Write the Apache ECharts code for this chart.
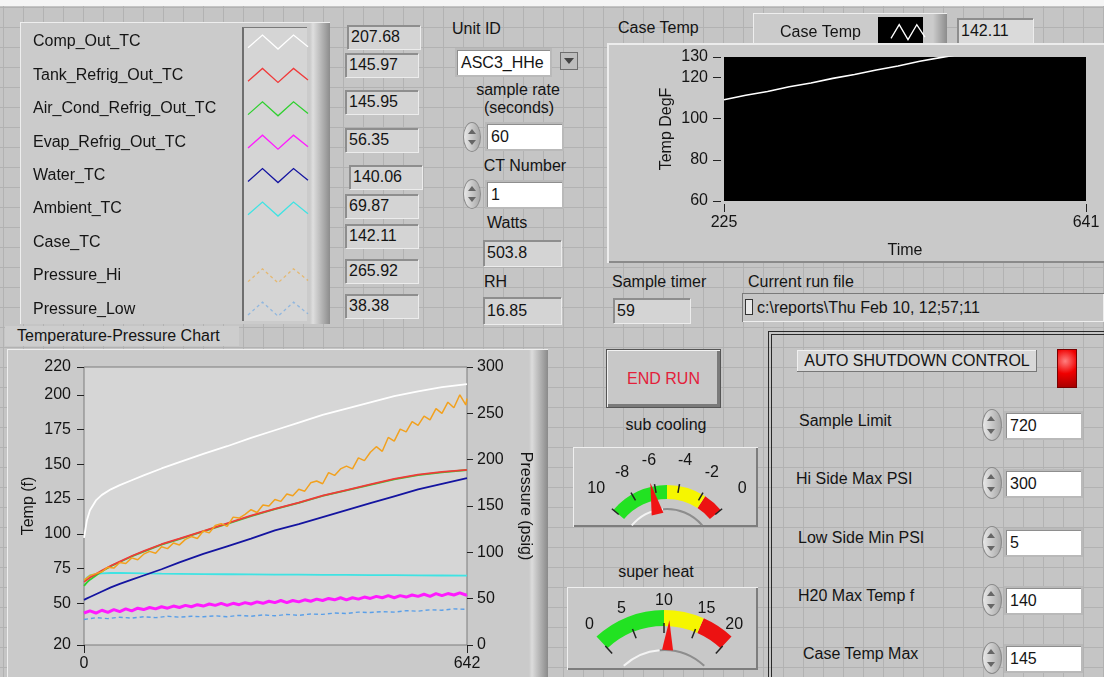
<!DOCTYPE html>
<html>
<head>
<meta charset="utf-8">
<title>Temperature-Pressure Monitor</title>
<script src="https://cdn.jsdelivr.net/npm/echarts@6.0.0/dist/echarts.min.js"></script>
<style>
  html, body { margin: 0; padding: 0; }
  body {
    width: 1104px; height: 677px; overflow: hidden; position: relative;
    font-family: 'Liberation Sans', Arial, sans-serif; font-size: 16px; color: #141414;
    background-color: #c5c5c5;
    background-image:
      linear-gradient(to right, #b2b2b2 1px, transparent 1px),
      linear-gradient(to bottom, #b2b2b2 1px, transparent 1px);
    background-size: 20px 20px;
    background-position: 3px 7px;
  }
  .w { position: absolute; box-sizing: border-box; white-space: nowrap; }
  .raised { background: #c8c8c8; box-shadow: inset 1px 1px 0 #efefef, inset -2px -2px 0 #7d7d7d; }
  .ind { background: #d4d4d4; box-shadow: inset 2px 2px 0 #8e8e8e, 1px 1px 0 #ececec; padding-left: 4px; }
  .ctl { background: #fff; box-shadow: inset 1px 1px 0 #8e8e8e, 0 0 0 2px #b9b9b9; padding-left: 4px; }
  .spin { border-radius: 50%; background: linear-gradient(to right, #e8e8e8, #a8a8a8); border: 1px solid #8a8a8a; }
  .spin::before, .spin::after { content: ''; position: absolute; left: 4px; border-left: 4px solid transparent; border-right: 4px solid transparent; }
  .spin::before { top: 6px; border-bottom: 5px solid #666; }
  .spin::after { bottom: 6px; border-top: 5px solid #666; }
  #chart { position: absolute; left: 0; top: 0; width: 1104px; height: 677px; }
</style>
</head>
<body>
<div id="ui"></div>
<div id="chart"></div>
<script>
// ---- data ----
const trendX = [0, 5, 10, 20, 30, 45, 60, 80, 100, 130, 160, 200, 240, 280, 320, 360, 400, 440, 480, 520, 560, 600, 642];
const compOutTC = [97, 110, 117, 124, 128, 132, 135, 138.5, 142, 147, 151.5, 157.5, 163, 169, 174.5, 180, 185.5, 190, 194.5, 199, 202.5, 205.5, 207.7];
const tankOutTC = [65.5, 67, 68.5, 71, 73.5, 77, 80, 84, 87.5, 92.5, 96.5, 102, 107.5, 113, 118, 122.5, 127.5, 131.5, 135.5, 139.5, 142.5, 144.5, 146];
const airCondTC = [62.5, 65, 67, 70, 73, 76.7, 79.7, 83.7, 87.2, 92.2, 96.2, 101.7, 107.2, 112.7, 117.7, 122.2, 127.2, 131.2, 135.2, 139.2, 142.2, 144.2, 145.9];
const waterTC = [52.5, 53.5, 54.5, 56.5, 58.5, 61.5, 64, 67, 70, 74.5, 79.5, 85.5, 91, 96.5, 102.5, 107, 112, 117, 122, 127, 132, 136, 140.1];
const ambientTC = [66, 68.5, 70, 71, 71.5, 71.8, 71.8, 71.7, 71.5, 71.3, 71.2, 71, 70.9, 70.8, 70.7, 70.6, 70.5, 70.4, 70.3, 70.2, 70.1, 70, 69.9];

const noisyX = [0, 10, 20, 30, 40, 50, 60, 70, 80, 90, 100, 110, 120, 130, 140, 150, 160, 170, 180, 190,
  200, 210, 220, 230, 240, 250, 260, 270, 280, 290, 300, 310, 320, 330, 340, 350, 360, 370, 380, 390,
  400, 410, 420, 430, 440, 450, 460, 470, 480, 490, 500, 510, 520, 530, 540, 550, 560, 570, 580, 590,
  600, 610, 620, 630, 640, 642];
const evapTC = [43, 44.5, 43, 45, 43.5, 45.5, 44, 46, 44.5, 46.5, 45.5, 47, 46, 47.5, 46.5, 48, 47, 48.5, 47.5, 49,
  48, 49.5, 48.5, 50, 48.5, 50, 49, 50.5, 49.5, 51, 50, 51.5, 50.5, 52, 50.5, 52, 51, 52.5, 51.5, 53,
  52, 53.5, 52.5, 54, 52.5, 54, 53, 54.5, 53.5, 55, 54, 55.5, 54, 55.5, 54.5, 56, 55, 56.5, 55, 57,
  55.5, 57, 56, 57.5, 56, 56.3];
const pressureHi = [70, 75, 77, 79, 84, 83, 89, 88, 94, 92, 98, 101, 99, 106, 104, 110, 108, 114, 117, 115,
  123, 121, 129, 131, 128, 138, 137, 141, 146, 143, 151, 150, 157, 155, 163, 161, 168, 166, 175, 177,
  174, 186, 183, 190, 193, 190, 202, 199, 208, 214, 209, 224, 220, 233, 230, 241, 237, 247, 243, 255,
  250, 262, 256, 270, 259, 266];

const lowX = [0, 20, 40, 60, 80, 100, 120, 140, 160, 180, 200, 220, 240, 260, 280, 300, 320, 340, 360, 380,
  400, 420, 440, 460, 480, 500, 520, 540, 560, 580, 600, 620, 640, 642];
const pressureLow = [27.5, 29.5, 28.5, 30, 29, 30.5, 29.5, 31, 30, 31, 30.5, 31.5, 30.5, 32, 31, 32.5, 31.5, 33, 32, 33.5,
  33, 34.5, 34, 35.5, 35, 36, 35.5, 37, 36.5, 38, 37.5, 39, 38.5, 38.4];

const caseX = [225, 250, 275, 300, 325, 350, 375, 400, 425, 450, 475, 500, 525, 550, 575, 600, 625, 641];
const caseTemp = [109.2, 111.4, 113.2, 115.5, 117.4, 119.6, 121.5, 123.7, 125.6, 127.9, 129.8, 131.6, 133.5, 135.6, 137.4, 139.4, 141, 142.1];

const legendNames = ['Comp_Out_TC', 'Tank_Refrig_Out_TC', 'Air_Cond_Refrig_Out_TC', 'Evap_Refrig_Out_TC',
  'Water_TC', 'Ambient_TC', 'Case_TC', 'Pressure_Hi', 'Pressure_Low'];
const readouts = ['207.68', '145.97', '145.95', '56.35', '140.06', '69.87', '142.11', '265.92', '38.38'];

const tempTicks = [20, 50, 75, 100, 125, 150, 175, 200, 220];
const caseTicks = [60, 80, 100, 120, 130];
const subCooling = -6.3;
const superHeat = 10.8;

const shutdownLabels = ['Sample Limit', 'Hi Side Max PSI', 'Low Side Min PSI', 'H20 Max Temp f', 'Case Temp Max'];
const shutdownValues = ['720', '300', '5', '140', '145'];

// ---- front panel widgets (plain html behind the chart canvas) ----
const ui = document.getElementById('ui');
function put(cls, x, y, w, h, text, extra) {
  const d = document.createElement('div');
  d.className = 'w ' + cls;
  d.style.left = x + 'px';
  d.style.top = y + 'px';
  if (w) d.style.width = w + 'px';
  if (h) { d.style.height = h + 'px'; d.style.lineHeight = h + 'px'; }
  if (text != null) d.textContent = text;
  if (extra) Object.assign(d.style, extra);
  ui.appendChild(d);
  return d;
}
const label = (x, cy, text, extra) => put('', x, cy - 10, null, 20, text, extra);
const centered = (cx, cy, text, extra) => put('', cx - 70, cy - 10, 140, 20, text, Object.assign({ textAlign: 'center' }, extra));

put('', 0, 0, 1104, 6, null, { background: '#f5f5f5' });

// legend panel
put('', 20, 22, 310, 302, null, { background: 'linear-gradient(to right,#cbcbcb 0,#cbcbcb 290px,#dedede 293px,#8c8c8c 310px)', boxShadow: 'inset 1px 1px 0 #eeeeee' });
put('', 242, 27, 65, 294, null, { background: '#d5d5d5', borderLeft: '2px solid #6f6f6f', borderTop: '1px solid #7a7a7a' });

const readX = [347, 345, 345, 345, 349, 345, 345, 345, 345];
const readY = [37, 65, 102, 140, 177, 206, 236, 271, 306];
readouts.forEach((v, i) => put('ind', readX[i], readY[i] - 12, 73, 24, v));

label(452, 29, 'Unit ID');
put('ctl', 457, 50, 93, 25, 'ASC3_HHe');
put('', 560, 52, 18, 18, null, { background: '#bdbdbd', border: '1px solid #6e6e6e' });
put('', 564, 58, 0, 0, null, { borderLeft: '5px solid transparent', borderRight: '5px solid transparent', borderTop: '6px solid #444' });
centered(518, 90, 'sample rate');
centered(519, 108, '(seconds)');
put('spin', 463, 122, 18, 30);
put('ctl', 487, 124, 75, 25, '60');
centered(525, 166, 'CT Number');
put('spin', 463, 179, 18, 30);
put('ctl', 487, 182, 75, 25, '1');
label(487, 223, 'Watts');
put('ind', 483, 240, 78, 26, '503.8');
label(484, 282, 'RH');
put('ind', 483, 297, 78, 27, '16.85');

// case temp chart frame
label(618, 28, 'Case Temp');
put('', 753, 13, 194, 34, null, { background: 'linear-gradient(to right,#cbcbcb 0,#cbcbcb 180px,#8c8c8c 194px)', boxShadow: 'inset 1px 1px 0 #eeeeee' });
put('', 878, 17, 45, 26, null, { background: '#000' });
put('ind', 957, 18, 76, 25, '142.11', { background: '#dadada' });
put('', 607, 43, 497, 220, null, { background: '#c9c9c9', boxShadow: 'inset 2px 2px 0 #ececec, inset 0 -2px 0 #8a8a8a' });
label(612, 282, 'Sample timer');
put('ind', 613, 298, 77, 25, '59');
label(748, 282, 'Current run file');
put('', 742, 293, 362, 29, null, { background: '#c6c6c6', boxShadow: 'inset 1px 1px 0 #7a7a7a, inset -1px -1px 0 #eeeeee' });
put('', 745, 299, 8, 16, null, { border: '1px solid #333', background: '#e8e8e8' });
put('', 757, 295, null, 26, 'c:\\reports\\Thu Feb 10, 12;57;11');

// main chart frame
put('', 5, 326, 234, 20, 'Temperature-Pressure Chart', { background: '#cdcdcd', paddingLeft: '12px' });
put('', 7, 349, 541, 328, null, { background: 'linear-gradient(to right,#cacaca 0,#cacaca 522px,#dcdcdc 525px,#8a8a8a 541px)', boxShadow: 'inset 1px 1px 0 #eeeeee' });

// button and gauge frames
put('raised', 607, 350, 113, 57, 'END RUN', { textAlign: 'center', color: '#e3203a', boxShadow: 'inset 1px 1px 0 #f2f2f2, inset -3px -3px 0 #7a7a7a, 0 0 0 1px #555' });
centered(666, 425, 'sub cooling');
put('raised', 573, 447, 185, 80);
centered(656, 572, 'super heat');
put('raised', 567, 587, 191, 83);

// auto shutdown block
put('', 768, 331, 336, 346, null, { borderLeft: '4px double #2a2a2a', borderTop: '4px double #2a2a2a' });
put('', 797, 350, 240, 22, 'AUTO SHUTDOWN CONTROL', { background: '#d8d8d8', textAlign: 'center', boxShadow: 'inset -1px -1px 0 #777, inset 1px 1px 0 #f0f0f0' });
put('', 1057, 349, 20, 39, null, { background: 'radial-gradient(circle at 40% 30%, #ff8080, #f00000 45%, #a00000)', border: '1px solid #700' });
const rowLabelX = [799, 796, 798, 798, 803];
const rowY = [425, 483, 542, 600, 658];
shutdownLabels.forEach((t, i) => {
  label(rowLabelX[i], rowY[i] - 4, t);
  put('spin', 982, rowY[i] - 16, 20, 32);
  put('ctl', 1006, rowY[i] - 12, 75, 25, shutdownValues[i]);
});

// ---- charts ----
const chart = echarts.init(document.getElementById('chart'), null, { renderer: 'canvas' });
const FONT = 'Liberation Sans';
const axisText = { color: '#141414', fontSize: 16, fontFamily: FONT };
const zig = 'path://M0,12 L14,1 L29,13 L44,1 L58,11';
const pairs = (xs, ys) => xs.map((x, i) => [x, ys[i]]);

const COLORS = {
  'Comp_Out_TC': '#ffffff', 'Tank_Refrig_Out_TC': '#f03a3a', 'Air_Cond_Refrig_Out_TC': '#2fd02f',
  'Evap_Refrig_Out_TC': '#ff1aff', 'Water_TC': '#1414a0', 'Ambient_TC': '#3fe3e3',
  'Case_TC': 'transparent', 'Pressure_Hi': '#f2a11e', 'Pressure_Low': '#5a9fe8',
}

function line(name, data, width, extra) {
  return Object.assign({
    name, type: 'line', data, showSymbol: false, symbol: 'none',
    xAxisIndex: 0, yAxisIndex: 0,
    lineStyle: { color: COLORS[name], width }, itemStyle: { color: COLORS[name] },
  }, extra || {});
}

const mainSeries = [
  line('Pressure_Low', pairs(lowX, pressureLow), 1.4, { yAxisIndex: 1, lineStyle: { color: COLORS['Pressure_Low'], width: 1.4, type: [4, 3] } }),
  line('Evap_Refrig_Out_TC', pairs(noisyX, evapTC), 3),
  line('Ambient_TC', pairs(trendX, ambientTC), 1.8),
  line('Air_Cond_Refrig_Out_TC', pairs(trendX, airCondTC), 1.8),
  line('Tank_Refrig_Out_TC', pairs(trendX, tankOutTC), 1.8),
  line('Water_TC', pairs(trendX, waterTC), 1.8),
  line('Comp_Out_TC', pairs(trendX, compOutTC), 1.8),
  line('Case_TC', [], 1),
  line('Pressure_Hi', pairs(noisyX, pressureHi), 1.5, { yAxisIndex: 1 }),
];

const legendData = legendNames.map(n => ({
  name: n,
  itemStyle: {
    color: 'transparent',
    borderColor: COLORS[n],
    borderWidth: 1.3,
    borderType: n.indexOf('Pressure') === 0 ? [3, 3] : 'solid',
    opacity: n.indexOf('Pressure') === 0 ? 0.55 : 1,
  },
}));

function gauge(opt) {
  return Object.assign({
    type: 'gauge',
    axisTick: { show: false },
    progress: { show: false },
    anchor: { show: false },
    title: { show: false },
    detail: { show: false },
  }, opt);
}

const legendText = w => ({
  width: w, lineHeight: 14, color: '#141414', fontSize: 16, fontFamily: FONT,
  rich: { n: { align: 'left', fontSize: 16, lineHeight: 14, fontFamily: FONT, color: '#141414' } },
});

const option = {
  animation: false,
  legend: [
    {
      orient: 'vertical', left: 28, top: 29, itemGap: 17.4, itemWidth: 60, itemHeight: 14,
      align: 'right', icon: zig, symbolKeepAspect: false, selectedMode: false, data: legendData,
      formatter: n => '{n|' + n + '}',
      textStyle: legendText(210),
    },
    {
      orient: 'vertical', left: 775, top: 19, itemWidth: 34, itemHeight: 15,
      align: 'right', icon: zig, symbolKeepAspect: false, selectedMode: false,
      data: [{ name: 'Case Temp', itemStyle: { color: 'transparent', borderColor: '#ffffff', borderWidth: 1.3 } }],
      formatter: n => '{n|' + n + '}',
      textStyle: legendText(106),
    },
  ],
  grid: [
    { left: 84, top: 367, width: 383, height: 278, show: true, backgroundColor: '#d6d6d6', borderColor: '#7d7d7d', borderWidth: 1 },
    { left: 724, top: 57, width: 362, height: 144, show: true, backgroundColor: '#000000', borderWidth: 0 },
  ],
  xAxis: [
    {
      type: 'value', gridIndex: 0, min: 0, max: 642,
      axisLine: { show: false }, splitLine: { show: false },
      axisTick: { customValues: [0, 642], length: 8, lineStyle: { color: '#222' } },
      axisLabel: Object.assign({ customValues: [0, 642], margin: 11 }, axisText),
    },
    {
      type: 'value', gridIndex: 1, min: 225, max: 641, offset: 3,
      axisLine: { show: false }, splitLine: { show: false },
      axisTick: { customValues: [225, 641], length: 8, lineStyle: { color: '#222' } },
      axisLabel: Object.assign({ customValues: [225, 641], margin: 11 }, axisText),
      name: 'Time', nameLocation: 'middle', nameGap: 39, nameTextStyle: axisText,
    },
  ],
  yAxis: [
    {
      type: 'value', gridIndex: 0, min: 20, max: 220,
      axisLine: { show: false }, splitLine: { show: false },
      axisTick: { customValues: tempTicks, length: 7, lineStyle: { color: '#222' } },
      axisLabel: Object.assign({ customValues: tempTicks, margin: 13 }, axisText),
      name: 'Temp (f)', nameLocation: 'middle', nameRotate: 90, nameGap: 47, nameTextStyle: axisText,
    },
    {
      type: 'value', gridIndex: 0, min: 0, max: 300, interval: 50, position: 'right',
      axisLine: { show: false }, splitLine: { show: false },
      axisTick: { length: 6, lineStyle: { color: '#222' } },
      axisLabel: Object.assign({ margin: 10 }, axisText),
      name: 'Pressure (psig)', nameLocation: 'middle', nameRotate: -90, nameGap: 50, nameTextStyle: axisText,
    },
    {
      type: 'value', gridIndex: 1, min: 60, max: 130, offset: 3,
      axisLine: { show: false }, splitLine: { show: false },
      axisTick: { customValues: caseTicks, length: 8, lineStyle: { color: '#222' } },
      axisLabel: Object.assign({ customValues: caseTicks, margin: 13 }, axisText),
      name: 'Temp DegF', nameLocation: 'middle', nameRotate: 90, nameGap: 46, nameTextStyle: axisText,
    },
  ],
  series: mainSeries.concat([
    {
      name: 'Case Temp', type: 'line', xAxisIndex: 1, yAxisIndex: 2, data: pairs(caseX, caseTemp),
      showSymbol: false, symbol: 'none', lineStyle: { color: '#ffffff', width: 1.6 }, itemStyle: { color: '#ffffff' },
    },
    // sub cooling
    gauge({
      center: [667, 555], radius: 47, startAngle: 140, endAngle: 40, min: -10, max: 0,
      axisLine: { lineStyle: { width: 2, color: [[0.45, '#f4f4f4'], [1, '#8d8d8d']] } },
      splitLine: { show: false }, axisLabel: { show: false }, pointer: { show: false }, data: [],
    }),
    gauge({
      center: [667, 555], radius: 70, startAngle: 140, endAngle: 40, min: -10, max: 0, splitNumber: 5,
      axisLine: { lineStyle: { width: 14, color: [[0.5, '#22e222'], [0.83, '#f6f600'], [1, '#ec1212']] } },
      splitLine: { distance: -16, length: 9, lineStyle: { color: '#222', width: 1.5 } },
      axisLabel: { distance: -27, color: '#141414', fontSize: 16, fontFamily: FONT, align: 'center', verticalAlign: 'middle',
        formatter: v => (v === -10 ? '10' : String(v)) },
      pointer: { icon: 'triangle', length: 32, width: 12, offsetCenter: [0, -42], itemStyle: { color: '#f01414' } },
      data: [{ value: subCooling }],
    }),
    // super heat
    gauge({
      center: [664, 709], radius: 60, startAngle: 133, endAngle: 47, min: 0, max: 20,
      axisLine: { lineStyle: { width: 2, color: [[0.45, '#f4f4f4'], [1, '#8d8d8d']] } },
      splitLine: { show: false }, axisLabel: { show: false }, pointer: { show: false }, data: [],
    }),
    gauge({
      center: [664, 709], radius: 99, startAngle: 133, endAngle: 47, min: 0, max: 20, splitNumber: 4,
      axisLine: { lineStyle: { width: 16, color: [[0.5, '#22e222'], [0.775, '#f6f600'], [1, '#ec1212']] } },
      splitLine: { distance: -3, length: 10, lineStyle: { color: '#222', width: 1.5 } },
      axisLabel: { distance: -24, color: '#141414', fontSize: 16, fontFamily: FONT, align: 'center', verticalAlign: 'middle' },
      pointer: { icon: 'triangle', length: 30, width: 11, offsetCenter: [0, -59], itemStyle: { color: '#f01414' } },
      data: [{ value: superHeat }],
    }),
  ]),
};

chart.setOption(option);
window.addEventListener('resize', () => chart.resize());
</script>
</body>
</html>
